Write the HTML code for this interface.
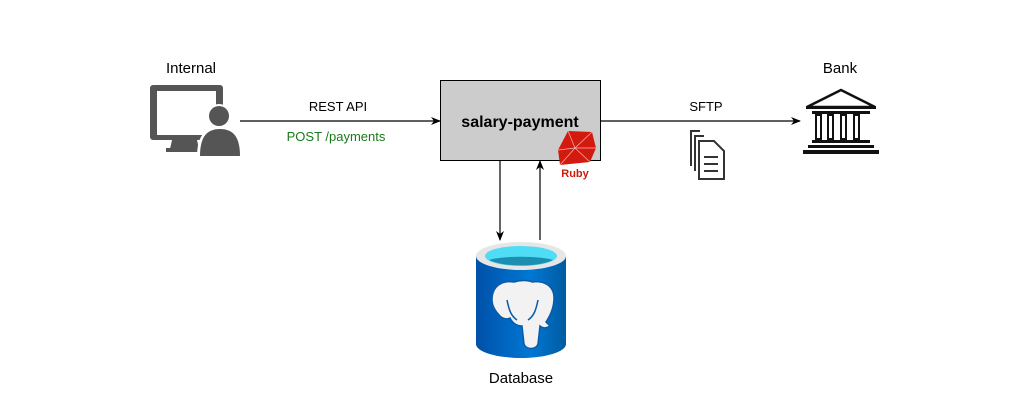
<!DOCTYPE html>
<html><head><style>body{margin:0;background:#fff}svg{display:block}text{font-family:"Liberation Sans",sans-serif}</style></head><body>
<svg width="1014" height="400" viewBox="0 0 1014 400">
<defs>
<marker id="a" markerWidth="10" markerHeight="10" refX="9" refY="5" orient="auto" markerUnits="userSpaceOnUse"><path d="M0,1 L10,5 L0,9 L3,5Z" fill="#000"/></marker>
<linearGradient id="g" x1="0" x2="1"><stop offset="0" stop-color="#0050a8"/><stop offset="0.6" stop-color="#0078d4"/><stop offset="1" stop-color="#005ba1"/></linearGradient>
</defs>
<text x="191" y="73" font-size="15" text-anchor="middle">Internal</text>
<path fill="#555" fill-rule="evenodd" d="M153,85 h67 a3,3 0 0 1 3,3 v52 h-70 a3,3 0 0 1 -3,-3 v-49 a3,3 0 0 1 3,-3Z M157,91 v44 h59 v-44Z"/>
<path fill="#555" d="M172,140 h25 l2,9 h-29Z M166,148 h36 v4 h-36Z"/>
<circle cx="219" cy="116" r="12" fill="#fff"/>
<circle cx="219" cy="116" r="10" fill="#555"/>
<path fill="#fff" d="M197,157 c0,-20 7,-30 23,-30 c16,0 23,10 23,30Z"/>
<path fill="#555" d="M200,156 c0,-18 6,-27 20,-27 c14,0 20,9 20,27Z"/>
<line x1="240" y1="121" x2="440" y2="121" stroke="#000" stroke-width="1.2" marker-end="url(#a)"/>
<text x="338" y="111" font-size="13" text-anchor="middle">REST API</text>
<text x="336" y="141" font-size="13" text-anchor="middle" fill="#1a7a1a">POST /payments</text>
<rect x="440.5" y="80.5" width="160" height="80" fill="#cccccc" stroke="#000"/>
<text x="520" y="127" font-size="16" font-weight="bold" text-anchor="middle">salary-payment</text>
<path d="M568,131 L592,132 L596,148 L590,162 L560,165 L558,150Z" fill="#d31a0f"/>
<path d="M568,131 L575,148 L592,132 M575,148 L560,165 M575,148 L590,162 M558,150 L575,148 L596,148" stroke="#f5b5b0" stroke-width="0.7" fill="none"/>
<text x="575" y="177" font-size="11" font-weight="bold" fill="#cc1a10" text-anchor="middle">Ruby</text>
<line x1="600" y1="121" x2="800" y2="121" stroke="#000" stroke-width="1.2" marker-end="url(#a)"/>
<text x="706" y="111" font-size="13" text-anchor="middle">SFTP</text>
<g fill="none" stroke="#333" stroke-width="2">
<path d="M691,166 v-35 h9"/><path d="M695,171 v-35 h9"/>
<path d="M699,141 h15 l10,10 v28 h-25Z"/><path d="M704,157 h14 M704,164 h14 M704,171 h14"/>
</g>
<text x="840" y="73" font-size="15" text-anchor="middle">Bank</text>
<path d="M841,90 L807,107 h68Z" fill="none" stroke="#111" stroke-width="2.5" stroke-linejoin="miter"/>
<path d="M806,106 h70 v3 h-70Z" fill="#111"/>
<path d="M812,111 h58 v3 h-58Z M812,140 h58 v3 h-58Z M803,150 h76 v4 h-76Z M808,145 h66 v3 h-66Z" fill="#111"/>
<path d="M815,114 h7 v26 h-7Z M827,114 h7 v26 h-7Z M840,114 h7 v26 h-7Z M853,114 h7 v26 h-7Z" fill="#111"/>
<path d="M817,116 h3 v22 h-3Z M829,116 h3 v22 h-3Z M842,116 h3 v22 h-3Z M855,116 h3 v22 h-3Z" fill="#fff"/>
<line x1="500" y1="160" x2="500" y2="240" stroke="#000" stroke-width="1.2" marker-end="url(#a)"/>
<line x1="540" y1="240" x2="540" y2="161" stroke="#000" stroke-width="1.2" marker-end="url(#a)"/>
<path d="M476,256 v88 a45,14 0 0 0 90,0 v-88Z" fill="url(#g)"/>
<ellipse cx="521" cy="256" rx="45" ry="14" fill="#e6e6e6"/>
<ellipse cx="521" cy="256" rx="36" ry="10" fill="#4fdcf5"/>
<path d="M489,260 a36,10 0 0 0 64,0 a36,6 0 0 0 -64,0Z" fill="#1c8fb0"/>
<path d="M492,300 c0,-14 10,-20 22,-18 c6,-2 14,-2 18,0 c12,-2 22,4 22,16 c0,10 -4,18 -8,24 l4,4 c-4,3 -8,2 -10,0 l-2,18 c-2,6 -12,6 -14,0 l-2,-18 c-6,0 -10,-4 -12,-8 c-4,2 -8,0 -10,-2 c-4,-4 -8,-10 -8,-16Z" fill="#f2f2f2" stroke="#0a5aa8" stroke-width="1.5"/>
<path d="M507,300 c2,10 4,16 10,20 M538,300 c-2,10 -4,16 -10,20" stroke="#0a5aa8" stroke-width="1.5" fill="none"/>
<text x="521" y="383" font-size="15" text-anchor="middle">Database</text>
</svg>
</body></html>
